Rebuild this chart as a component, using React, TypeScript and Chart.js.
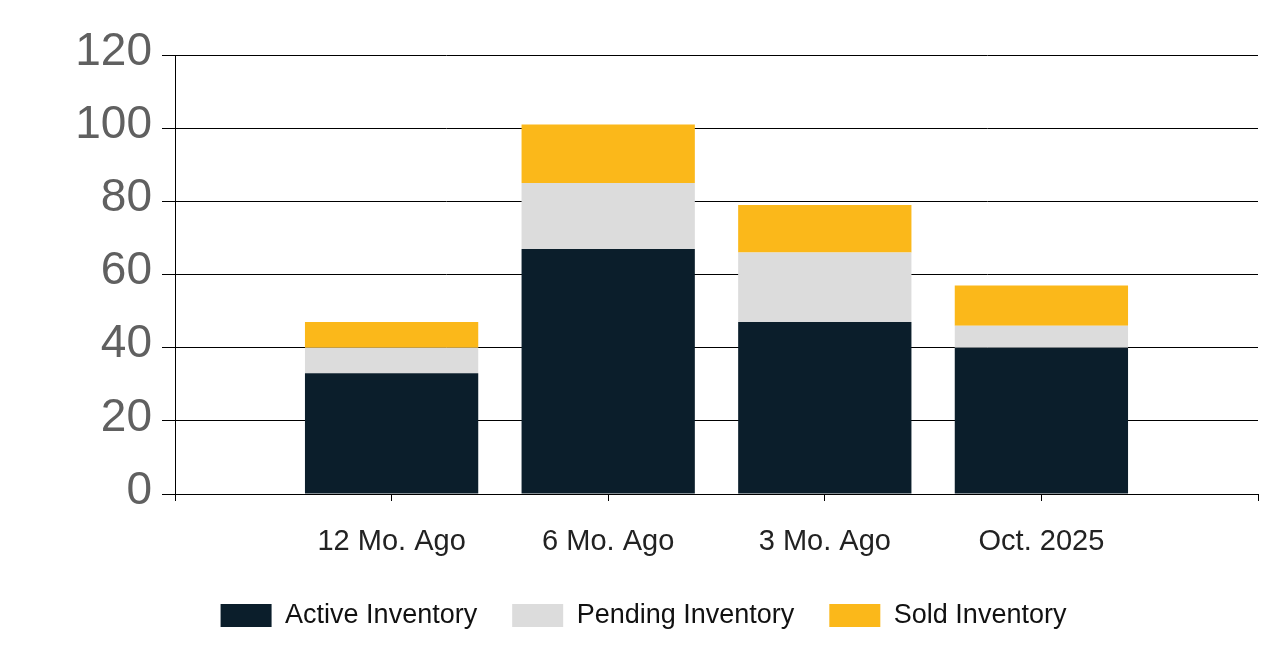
import React, { useEffect, useRef } from "react";
import { Chart, registerables } from "chart.js";

Chart.register(...registerables);

const categories = ["12 Mo. Ago", "6 Mo. Ago", "3 Mo. Ago", "Oct. 2025"];
const activeInventory = [33, 67, 47, 40];
const pendingInventory = [7, 18, 19, 6];
const soldInventory = [7, 16, 13, 11];
const yTicks = [0, 20, 40, 60, 80, 100, 120];

const pad = (arr: number[]) => [null, ...arr, null];

export default function App() {
  const ref = useRef<HTMLCanvasElement | null>(null);
  useEffect(() => {
    document.body.style.margin = "0";
    const ctx = ref.current!;
    const chart = new Chart(ctx, {
      type: "bar",
      data: {
        labels: ["", ...categories, ""],
        datasets: [
          { label: "Active Inventory", data: pad(activeInventory), backgroundColor: "#0b1e2b", borderWidth: 0 },
          { label: "Pending Inventory", data: pad(pendingInventory), backgroundColor: "#dcdcdc", borderWidth: 0 },
          { label: "Sold Inventory", data: pad(soldInventory), backgroundColor: "#fbb81a", borderWidth: 0 },
        ],
      },
      options: {
        animation: false,
        responsive: false,
        devicePixelRatio: 1,
        barPercentage: 1,
        categoryPercentage: 0.8,
        layout: { padding: { left: 29, right: 3, top: 55, bottom: 24 } },
        plugins: {
          tooltip: { enabled: false },
          legend: {
            position: "bottom",
            labels: {
              boxWidth: 51,
              boxHeight: 23,
              padding: 35,
              color: "#111111",
              font: { family: "'Liberation Sans', Arial, sans-serif", size: 27 },
            },
          },
        },
        scales: {
          x: {
            stacked: true,
            offset: false,
            afterFit: (s: any) => { s.height = 73; },
            grid: { offset: false, drawOnChartArea: false, drawTicks: true, tickLength: 7, color: "#000000", lineWidth: 1 },
            border: { display: true, color: "#000000", width: 1 },
            ticks: {
              autoSkip: false,
              maxRotation: 0,
              padding: 0,
              color: "#222222",
              font: { family: "'Liberation Sans', Arial, sans-serif", size: 29, lineHeight: "81px" },
            },
          },
          y: {
            stacked: true,
            min: 0,
            max: 120,
            afterFit: (s: any) => { s.width = 146; },
            afterBuildTicks: (s: any) => { s.ticks = yTicks.map((v) => ({ value: v })); },
            grid: { color: "#000000", lineWidth: 1, tickLength: 13, drawTicks: true },
            border: { display: true, color: "#000000", width: 1 },
            ticks: {
              padding: 10,
              labelOffset: -3,
              color: "#606060",
              font: { family: "'Liberation Sans', Arial, sans-serif", size: 46 },
            },
          },
        },
      },
    } as any);
    return () => chart.destroy();
  }, []);
  return (
    <div style={{ position: "absolute", left: 0, top: 0, width: 1261, height: 663 }}>
      <canvas ref={ref} width={1261} height={663} />
    </div>
  );
}
